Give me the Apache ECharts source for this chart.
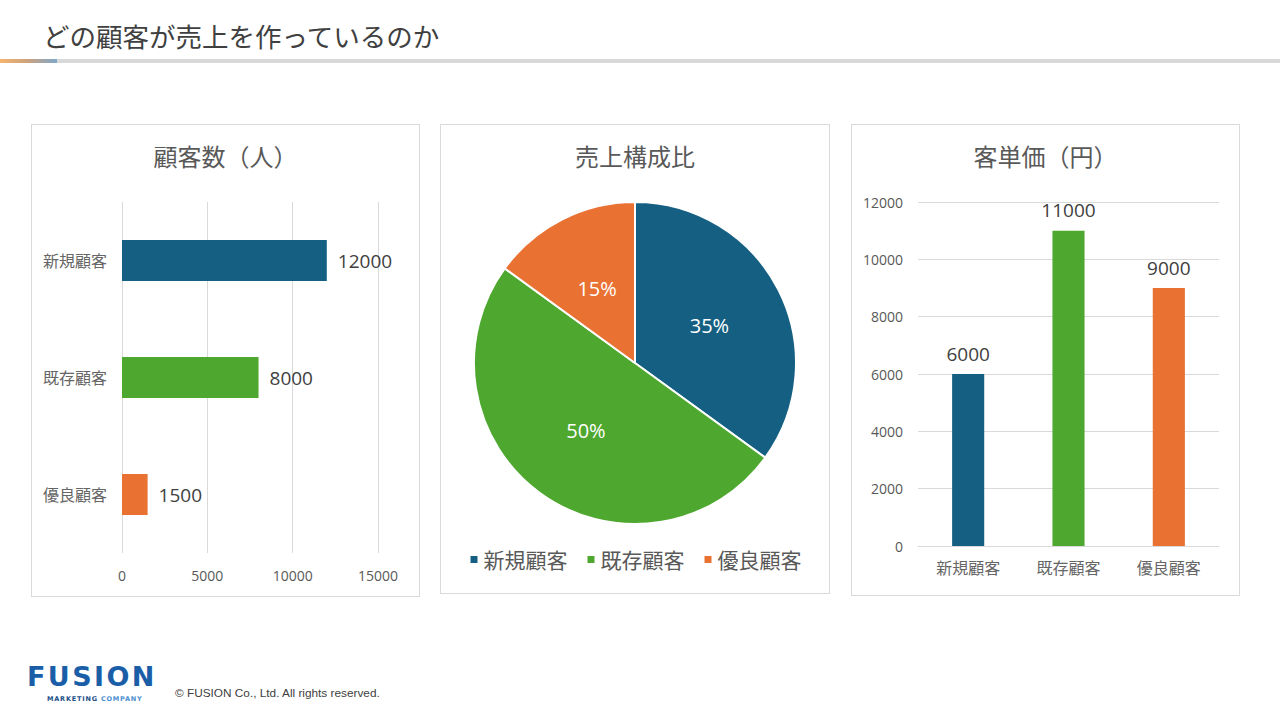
<!DOCTYPE html>
<html lang="ja">
<head>
<meta charset="utf-8">
<title>どの顧客が売上を作っているのか</title>
<script src="https://cdn.jsdelivr.net/npm/echarts@6/dist/echarts.min.js"></script>
<style>
  html, body { margin: 0; padding: 0; background: #fff; }
  body { width: 1280px; height: 720px; position: relative; overflow: hidden;
         font-family: "Noto Sans CJK JP", "Noto Sans", sans-serif; }
  .header { position: absolute; left: 43px; top: 17px; font-size: 26.5px; color: #404040; line-height: 38px; }
  .rule { position: absolute; left: 0; top: 59px; width: 1280px; height: 4px; background: #d9d9d9; }
  .rule .accent { position: absolute; left: 0; top: 0; width: 57px; height: 4px;
                  background: linear-gradient(to right, #f6b46c, #c9a27f, #7ea8cc); }
  .panel { position: absolute; border: 1px solid #d9d9d9; box-sizing: border-box; }
  .panel .chart { width: 100%; height: 100%; }
  .logo { position: absolute; left: 27px; top: 660px; }
  .logo .name { font-family: "DejaVu Sans", sans-serif; font-weight: bold; font-size: 27px;
                letter-spacing: 2.4px; color: #1b5ea8; line-height: 34px; }
  .logo .sub { font-family: "DejaVu Sans", sans-serif; font-weight: bold; font-size: 6.5px;
               letter-spacing: 0.8px; color: #1b4f8a; margin-left: 20px; line-height: 10px; }
  .logo .sub span { color: #4d8fcf; }
  .copy { position: absolute; left: 175px; top: 686px; font-size: 11.8px; color: #404040;
          font-family: "Liberation Sans", "DejaVu Sans", sans-serif; }
</style>
</head>
<body>
<div class="header">どの顧客が売上を作っているのか</div>
<div class="rule"><div class="accent"></div></div>

<div class="panel" style="left:31px; top:124px; width:389px; height:473px;"><div id="countChart" class="chart"></div></div>
<div class="panel" style="left:440px; top:124px; width:390px; height:470px;"><div id="shareChart" class="chart"></div></div>
<div class="panel" style="left:851px; top:124px; width:389px; height:472px;"><div id="priceChart" class="chart"></div></div>

<div class="logo">
  <div class="name">FUSION</div>
  <div class="sub">MARKETING <span>COMPANY</span></div>
</div>
<div class="copy">© FUSION Co., Ltd. All rights reserved.</div>

<script>
// data
const categories = ['新規顧客', '既存顧客', '優良顧客'];
const customerCounts = [12000, 8000, 1500];
const salesShare = [35, 50, 15];
const unitPrices = [6000, 11000, 9000];

const colors = ['#156082', '#4EA72E', '#E97132'];
const fontStack = '"Open Sans", "Noto Sans CJK JP", sans-serif';
const titleStyle = { fontSize: 24, fontWeight: 'normal', color: '#595959', fontFamily: fontStack };
const tickText = { fontSize: 14, color: '#595959', fontFamily: fontStack };
const catText = { fontSize: 16, color: '#666666', fontFamily: fontStack };
const valueText = { fontSize: 19, color: '#404040', fontFamily: fontStack };
const plain = (v) => String(v);

// Initialize count chart (horizontal bars)
const countChart = echarts.init(document.getElementById('countChart'), null, { renderer: 'svg' });
countChart.setOption({
  animation: false,
  title: { text: '顧客数（人）', left: 'center', top: 14, textStyle: titleStyle },
  grid: { left: 90, top: 77, width: 256, height: 351 },
  xAxis: {
    type: 'value', min: 0, max: 15000, interval: 5000,
    axisLine: { show: false }, axisTick: { show: false },
    axisLabel: Object.assign({ margin: 15, formatter: plain }, tickText),
    splitLine: { lineStyle: { color: '#d9d9d9', width: 1 } },
  },
  yAxis: {
    type: 'category', data: categories, inverse: true,
    axisLine: { show: false }, axisTick: { show: false },
    axisLabel: Object.assign({ margin: 15 }, catText),
  },
  series: [{
    type: 'bar',
    barWidth: '35%',
    data: customerCounts.map((v, i) => ({ value: v, itemStyle: { color: colors[i] } })),
    label: Object.assign({ show: true, position: 'right', distance: 11 }, valueText),
  }],
});

// Initialize share chart (pie)
const shareChart = echarts.init(document.getElementById('shareChart'), null, { renderer: 'svg' });
shareChart.setOption({
  animation: false,
  title: { text: '売上構成比', left: 'center', top: 14, textStyle: titleStyle },
  legend: {
    bottom: 18, left: 'center',
    icon: 'rect', itemWidth: 9, itemHeight: 9, itemGap: 18,
    textStyle: { fontSize: 21, color: '#595959', fontFamily: fontStack },
    data: categories,
  },
  series: [{
    type: 'pie',
    center: [194, 238],
    radius: 161,
    startAngle: 90,
    clockwise: true,
    itemStyle: { borderColor: '#fff', borderWidth: 2 },
    label: {
      show: true, position: 'inside', formatter: '{c}%',
      fontSize: 20, color: '#fff', fontFamily: fontStack,
    },
    labelLine: { show: false },
    emphasis: { disabled: true },
    data: categories.map((name, i) => ({
      name: name,
      value: salesShare[i],
      itemStyle: { color: colors[i] },
      label: i === 2 ? { padding: [0, 0, 30, 0] } : {},
    })),
  }],
});

// Initialize price chart (vertical bars)
const priceChart = echarts.init(document.getElementById('priceChart'), null, { renderer: 'svg' });
priceChart.setOption({
  animation: false,
  title: { text: '客単価（円）', left: 'center', top: 14, textStyle: titleStyle },
  grid: { left: 66, top: 77, width: 301, height: 344 },
  xAxis: {
    type: 'category', data: categories,
    axisLine: { lineStyle: { color: '#d9d9d9' } }, axisTick: { show: false },
    axisLabel: Object.assign({ margin: 14 }, catText),
  },
  yAxis: {
    type: 'value', min: 0, max: 12000, interval: 2000,
    axisLine: { show: false }, axisTick: { show: false },
    axisLabel: Object.assign({ margin: 15, formatter: plain }, tickText),
    splitLine: { lineStyle: { color: '#d9d9d9', width: 1 } },
  },
  series: [{
    type: 'bar',
    barWidth: '32%',
    data: unitPrices.map((v, i) => ({ value: v, itemStyle: { color: colors[i] } })),
    label: Object.assign({ show: true, position: 'top', distance: 11 }, valueText),
  }],
});
</script>
</body>
</html>
